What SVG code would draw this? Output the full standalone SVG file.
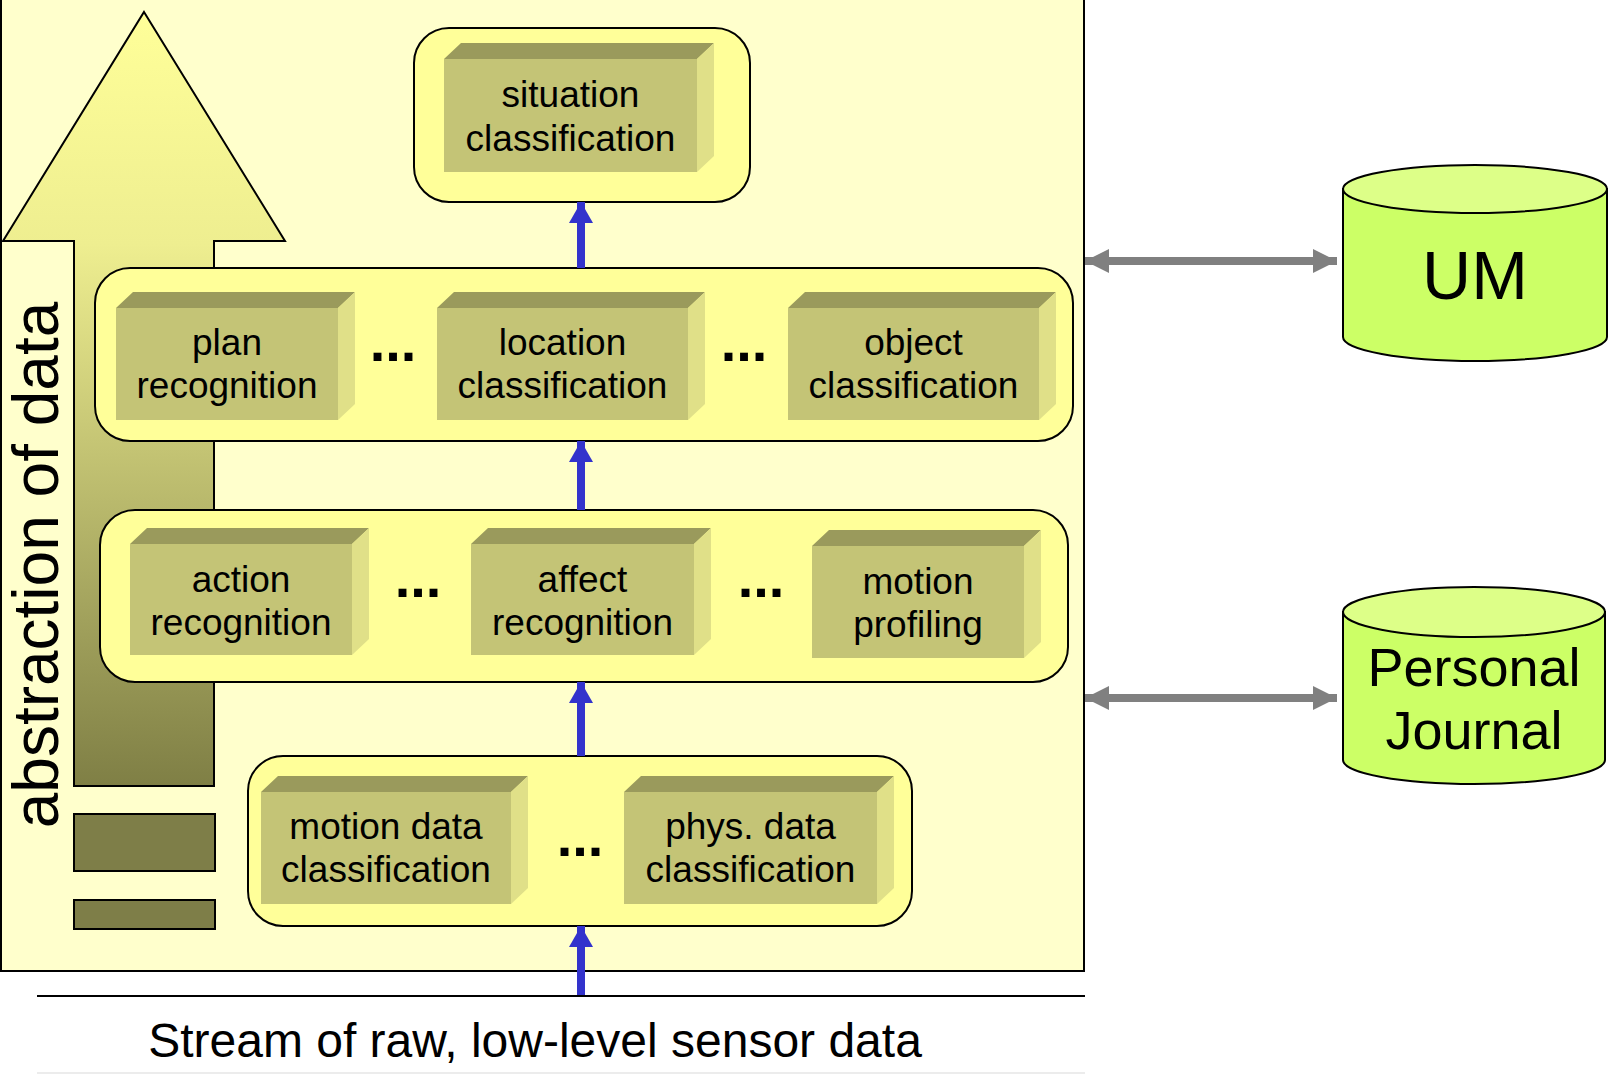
<svg xmlns="http://www.w3.org/2000/svg" width="1610" height="1075" viewBox="0 0 1610 1075">
<defs>
<linearGradient id="bigArrowGrad" x1="0" y1="12" x2="0" y2="786" gradientUnits="userSpaceOnUse">
<stop offset="0" stop-color="#FFFF99"/>
<stop offset="0.3" stop-color="#EEEE90"/>
<stop offset="1" stop-color="#7F7F45"/>
</linearGradient>
<marker id="blueHead" markerUnits="userSpaceOnUse" markerWidth="22" markerHeight="26" refX="21" refY="12" orient="auto">
<path d="M0,0 L21,12 L0,24 Z" fill="#3333CC"/>
</marker>
<marker id="grayHead" markerUnits="userSpaceOnUse" markerWidth="26" markerHeight="26" refX="24" refY="12" orient="auto-start-reverse">
<path d="M0,0 L24,12 L0,24 Z" fill="#808080"/>
</marker>
<style>
.panel{fill:#FFFFCC;stroke:#000;stroke-width:2}
.cont{fill:#FFFF99;stroke:#000;stroke-width:2}
.front{fill:#C4C476}
.top{fill:#9A9A5C}
.side{fill:#E0E088}
.lbl{font-family:"Liberation Sans",Arial,sans-serif;font-size:37px;fill:#000;text-anchor:middle}
.dots{font-family:"Liberation Sans",Arial,sans-serif;font-size:56px;font-weight:bold;fill:#000;text-anchor:middle}
.cyl{fill:#CCFF66;stroke:#000;stroke-width:2}
.cyltop{fill:#DDFF88;stroke:#000;stroke-width:2}
.cyllbl{font-family:"Liberation Sans",Arial,sans-serif;fill:#000;text-anchor:middle}
.blue{stroke:#3333CC;stroke-width:8;fill:none;marker-end:url(#blueHead)}
.gray{stroke:#808080;stroke-width:8;fill:none;marker-start:url(#grayHead);marker-end:url(#grayHead)}
.bar{fill:#7E7E48;stroke:#000;stroke-width:2}
</style>
</defs>

<rect class="panel" x="1" y="-5" width="1083" height="976"/>

<g id="abstraction-arrow">
<path d="M144,12 L285,241 L214,241 L214,786 L74,786 L74,241 L3,241 Z" fill="url(#bigArrowGrad)" stroke="#000" stroke-width="2"/>
<rect class="bar" x="74" y="814" width="141" height="57"/>
<rect class="bar" x="74" y="900" width="141" height="29"/>
<text transform="translate(58,565) rotate(-90)" font-family="'Liberation Sans',Arial,sans-serif" font-size="64" text-anchor="middle" fill="#000">abstraction of data</text>
</g>

<g id="layer-situation">
<rect class="cont" x="414" y="28" width="336" height="174" rx="35"/>
</g>
<g id="layer-high">
<rect class="cont" x="95" y="268" width="978" height="173" rx="35"/>
<text class="dots" x="393" y="361">...</text>
<text class="dots" x="744" y="361">...</text>
</g>
<g id="layer-mid">
<rect class="cont" x="100" y="510" width="968" height="172" rx="35"/>
<text class="dots" x="418" y="597">...</text>
<text class="dots" x="761" y="597">...</text>
</g>
<g id="layer-low">
<rect class="cont" x="248" y="756" width="664" height="170" rx="35"/>
<text class="dots" x="580" y="856">...</text>
</g>

<g id="situation-classification">
<polygon class="top" points="444,59 461,43 714,43 697,59"/>
<polygon class="side" points="697,59 714,43 714,156 697,172"/>
<rect class="front" x="444" y="59" width="253" height="113"/>
<text class="lbl" x="570.5" y="107">situation</text>
<text class="lbl" x="570.5" y="151">classification</text>
</g>

<g id="plan-recognition">
<polygon class="top" points="116,308 133,292 355,292 338,308"/>
<polygon class="side" points="338,308 355,292 355,404 338,420"/>
<rect class="front" x="116" y="308" width="222" height="112"/>
<text class="lbl" x="227" y="355">plan</text>
<text class="lbl" x="227" y="398">recognition</text>
</g>

<g id="location-classification">
<polygon class="top" points="437,308 454,292 705,292 688,308"/>
<polygon class="side" points="688,308 705,292 705,404 688,420"/>
<rect class="front" x="437" y="308" width="251" height="112"/>
<text class="lbl" x="562.5" y="355">location</text>
<text class="lbl" x="562.5" y="398">classification</text>
</g>

<g id="object-classification">
<polygon class="top" points="788,308 805,292 1056,292 1039,308"/>
<polygon class="side" points="1039,308 1056,292 1056,404 1039,420"/>
<rect class="front" x="788" y="308" width="251" height="112"/>
<text class="lbl" x="913.5" y="355">object</text>
<text class="lbl" x="913.5" y="398">classification</text>
</g>

<g id="action-recognition">
<polygon class="top" points="130,544 147,528 369,528 352,544"/>
<polygon class="side" points="352,544 369,528 369,639 352,655"/>
<rect class="front" x="130" y="544" width="222" height="111"/>
<text class="lbl" x="241" y="592">action</text>
<text class="lbl" x="241" y="635">recognition</text>
</g>

<g id="affect-recognition">
<polygon class="top" points="471,544 488,528 711,528 694,544"/>
<polygon class="side" points="694,544 711,528 711,639 694,655"/>
<rect class="front" x="471" y="544" width="223" height="111"/>
<text class="lbl" x="582.5" y="592">affect</text>
<text class="lbl" x="582.5" y="635">recognition</text>
</g>

<g id="motion-profiling">
<polygon class="top" points="812,546 829,530 1041,530 1024,546"/>
<polygon class="side" points="1024,546 1041,530 1041,642 1024,658"/>
<rect class="front" x="812" y="546" width="212" height="112"/>
<text class="lbl" x="918" y="594">motion</text>
<text class="lbl" x="918" y="637">profiling</text>
</g>

<g id="motion-data-classification">
<polygon class="top" points="261,792 278,776 528,776 511,792"/>
<polygon class="side" points="511,792 528,776 528,888 511,904"/>
<rect class="front" x="261" y="792" width="250" height="112"/>
<text class="lbl" x="386" y="839">motion data</text>
<text class="lbl" x="386" y="882">classification</text>
</g>

<g id="phys-data-classification">
<polygon class="top" points="624,792 641,776 894,776 877,792"/>
<polygon class="side" points="877,792 894,776 894,888 877,904"/>
<rect class="front" x="624" y="792" width="253" height="112"/>
<text class="lbl" x="750.5" y="839">phys. data</text>
<text class="lbl" x="750.5" y="882">classification</text>
</g>

<g id="um">
<path class="cyl" d="M1343,189 L1343,337 A132,24 0 0 0 1607,337 L1607,189 Z"/>
<ellipse class="cyltop" cx="1475" cy="189" rx="132" ry="24"/>
<text class="cyllbl" x="1475" y="299" font-size="68">UM</text>
</g>

<g id="personal-journal">
<path class="cyl" d="M1343,612 L1343,760 A131,24 0 0 0 1605,760 L1605,612 Z"/>
<ellipse class="cyltop" cx="1474" cy="612" rx="131" ry="25"/>
<text class="cyllbl" x="1474" y="686" font-size="54">Personal</text>
<text class="cyllbl" x="1474" y="749" font-size="54">Journal</text>
</g>

<g id="sensor-stream">
<line x1="37" y1="996" x2="1085" y2="996" stroke="#000" stroke-width="2"/>
<line x1="37" y1="1073" x2="1085" y2="1073" stroke="#E6E6E6" stroke-width="1.5"/>
<text x="535" y="1057" font-family="'Liberation Sans',Arial,sans-serif" font-size="48" text-anchor="middle" fill="#000">Stream of raw, low-level sensor data</text>
</g>

<g id="connectors">
<line class="blue" x1="581" y1="268" x2="581" y2="202"/>
<line class="blue" x1="581" y1="510" x2="581" y2="441"/>
<line class="blue" x1="581" y1="756" x2="581" y2="682"/>
<line class="blue" x1="581" y1="995" x2="581" y2="926"/>
<line class="gray" x1="1085" y1="261" x2="1337" y2="261"/>
<line class="gray" x1="1085" y1="698" x2="1337" y2="698"/>
</g>
</svg>
